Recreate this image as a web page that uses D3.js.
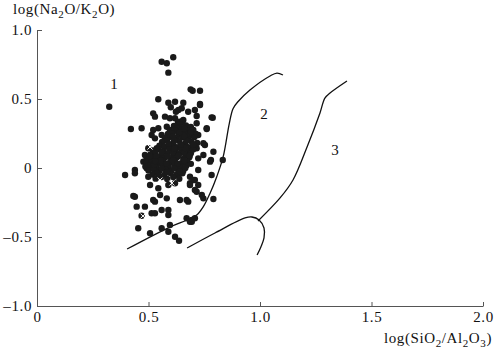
<!DOCTYPE html>
<html>
<head>
<meta charset="utf-8">
<script src="https://cdn.jsdelivr.net/npm/d3@7"></script>
<style>
body { margin: 0; background: #fff; }
text { font-family: "Liberation Serif", "Times New Roman", serif; fill: #111; }
</style>
</head>
<body>
<div id="chart"></div>
<script>
// axis ticks
var xTicks = [0, 0.5, 1.0, 1.5, 2.0];
var xTickLabels = ["0", "0.5", "1.0", "1.5", "2.0"];
var yTicks = [1.0, 0.5, 0, -0.5, -1.0];
var yTickLabels = ["1.0", "0.5", "0", "\u20130.5", "\u20131.0"];

// samples, [log(SiO2/Al2O3), log(Na2O/K2O)]
var points = [
  [0.559,0.770],[0.582,0.759],[0.611,0.802],[0.589,0.691],[0.324,0.444],
  [0.689,0.570],[0.698,0.560],[0.731,0.560],[0.544,0.498],[0.589,0.473],
  [0.619,0.480],[0.656,0.473],[0.731,0.464],[0.600,0.440],[0.623,0.408],
  [0.649,0.433],[0.678,0.408],[0.708,0.420],[0.521,0.396],[0.529,0.372],
  [0.574,0.372],[0.596,0.360],[0.716,0.377],[0.788,0.364],[0.634,0.420],
  [0.619,0.360],[0.656,0.348],[0.761,0.288],[0.716,0.324],[0.421,0.283],
  [0.469,0.288],[0.544,0.288],[0.514,0.239],[0.559,0.239],[0.582,0.299],
  [0.723,0.239],[0.529,0.215],[0.537,0.143],[0.492,0.070],[0.753,0.167],
  [0.746,0.094],[0.716,0.143],[0.499,0.143],[0.484,0.094],[0.477,0.046],
  [0.492,-0.002],[0.439,-0.014],[0.395,-0.051],[0.499,-0.063],[0.507,-0.123],
  [0.544,-0.147],[0.589,-0.123],[0.619,-0.111],[0.634,-0.038],[0.686,-0.063],
  [0.708,-0.087],[0.723,-0.123],[0.686,-0.111],[0.716,-0.172],[0.783,-0.051],
  [0.780,0.058],[0.791,0.118],[0.776,0.046],[0.723,0.070],[0.833,0.058],
  [0.723,-0.014],[0.701,-0.087],[0.708,-0.159],[0.746,-0.220],[0.791,-0.225],
  [0.671,-0.232],[0.439,-0.208],[0.552,-0.196],[0.582,-0.220],[0.641,-0.232],
  [0.678,-0.244],[0.447,-0.280],[0.484,-0.280],[0.529,-0.244],[0.559,-0.304],
  [0.589,-0.304],[0.514,-0.328],[0.589,-0.341],[0.671,-0.364],[0.694,-0.377],
  [0.708,-0.364],[0.454,-0.437],[0.507,-0.473],[0.559,-0.437],[0.596,-0.413],
  [0.589,-0.462],[0.619,-0.498],[0.637,-0.527],[0.439,-0.038],[0.432,-0.203],
  [0.521,-0.232],[0.739,-0.196],[0.469,-0.346],[0.529,-0.328],[0.694,-0.389],
  [0.521,0.275],[0.641,0.335],[0.761,0.283],[0.731,0.457],[0.746,0.179],
  [0.783,0.367],[0.686,-0.123],[0.686,-0.389],
  // dense core
  [0.632,0.333],[0.652,0.338],[0.641,0.318],
  [0.614,0.304],[0.641,0.296],[0.668,0.309],[0.690,0.297],[0.627,0.288],
  [0.596,0.275],[0.623,0.270],[0.650,0.280],[0.677,0.268],[0.701,0.276],
  [0.587,0.246],[0.606,0.252],[0.637,0.241],[0.664,0.251],[0.686,0.238],[0.711,0.249],
  [0.574,0.217],[0.598,0.226],[0.624,0.209],[0.652,0.222],[0.680,0.206],[0.706,0.224],
  [0.561,0.188],[0.584,0.197],[0.611,0.180],[0.638,0.195],[0.665,0.178],[0.692,0.193],[0.718,0.181],
  [0.549,0.162],[0.571,0.153],[0.598,0.166],[0.627,0.151],[0.651,0.163],[0.679,0.150],[0.705,0.165],
  [0.520,0.128],[0.545,0.137],[0.567,0.122],[0.593,0.139],[0.620,0.125],[0.647,0.136],[0.673,0.121],[0.700,0.134],
  [0.509,0.098],[0.531,0.108],[0.558,0.093],[0.584,0.106],[0.611,0.092],[0.638,0.105],[0.665,0.094],[0.690,0.107],
  [0.500,0.068],[0.522,0.079],[0.549,0.064],[0.575,0.077],[0.602,0.063],[0.629,0.079],[0.656,0.066],[0.683,0.078],
  [0.491,0.039],[0.513,0.050],[0.540,0.035],[0.567,0.049],[0.593,0.037],[0.620,0.051],[0.647,0.034],[0.674,0.048],
  [0.486,0.011],[0.508,0.021],[0.535,0.006],[0.562,0.020],[0.589,0.008],[0.616,0.022],[0.643,0.006],[0.670,0.019],
  [0.500,-0.018],[0.522,-0.008],[0.549,-0.022],[0.575,-0.009],[0.602,-0.021],[0.629,-0.006],[0.656,-0.020],
  [0.518,-0.047],[0.540,-0.036],[0.571,-0.050],[0.598,-0.037],[0.625,-0.049],[0.652,-0.038],
  [0.532,-0.077],[0.558,-0.066],[0.584,-0.079],[0.611,-0.066],[0.638,-0.078],
  [0.560,0.115],[0.610,0.115],[0.660,0.115],[0.535,0.085],[0.585,0.085],[0.635,0.090],
  [0.685,0.090],[0.555,0.055],[0.610,0.055],[0.660,0.055],[0.525,0.025],[0.580,0.030],
  [0.630,0.030],[0.690,0.030],[0.560,-0.003],[0.615,-0.002],[0.665,0.000],[0.585,-0.030],
  [0.640,-0.025],[0.615,0.140],[0.665,0.145],[0.590,0.175],[0.645,0.170],[0.700,0.170],
  [0.615,0.200],[0.670,0.200],[0.610,0.230],[0.660,0.232],[0.640,0.260],[0.690,0.260],
  [0.660,0.285],[0.530,0.050],[0.505,0.085],[0.545,-0.055]
];

// samples drawn as crosses
var crosses = [[0.507,0.152],[0.552,-0.087],[0.605,-0.109],[0.475,-0.348]];

// field boundaries
var boundary2 = [
  [0.404,-0.587],[0.596,-0.428],[0.673,-0.377],[0.716,-0.341],[0.746,-0.280],
  [0.776,-0.183],[0.806,-0.063],[0.835,0.082],[0.862,0.320],[0.879,0.430],
  [0.901,0.480],[0.955,0.565],[1.045,0.667],[1.076,0.688],[1.103,0.674]
];
var boundaryHook = [
  [0.673,-0.580],[0.798,-0.471],[0.933,-0.362],[0.964,-0.355],[0.996,-0.377],
  [1.018,-0.435],[1.018,-0.507],[1.004,-0.572],[0.987,-0.630]
];
var boundary3 = [
  [0.991,-0.384],[1.090,-0.217],[1.148,-0.087],[1.211,0.152],[1.269,0.399],
  [1.291,0.507],[1.314,0.543],[1.390,0.630]
];

var fieldLabels = [
  {text: "1", x: 0.345, y: 0.572},
  {text: "2", x: 1.018, y: 0.355},
  {text: "3", x: 1.336, y: 0.094}
];

var totalWidth = 494,
    totalHeight = 351;

var xScale = d3.scaleLinear().domain([0, 2]).range([37, 483]);
var yScale = d3.scaleLinear().domain([-1, 1]).range([306, 30]);

var svg = d3.select("#chart").append("svg")
    .attr("width", totalWidth)
    .attr("height", totalHeight);

var xAxis = d3.axisBottom(xScale)
    .tickValues(xTicks)
    .tickFormat(function(d, i) { return xTickLabels[i]; })
    .tickSizeInner(-4)
    .tickSizeOuter(0)
    .tickPadding(5);

var yAxis = d3.axisLeft(yScale)
    .tickValues(yTicks)
    .tickFormat(function(d, i) { return yTickLabels[i]; })
    .tickSizeInner(-5)
    .tickSizeOuter(0)
    .tickPadding(5);

var gx = svg.append("g")
    .attr("transform", "translate(0," + yScale(-1) + ")")
    .call(xAxis);

var gy = svg.append("g")
    .attr("transform", "translate(" + xScale(0) + ",0)")
    .call(yAxis);

[gx, gy].forEach(function(g) {
    g.selectAll("path, line").attr("stroke", "#555").attr("stroke-width", 1);
    g.selectAll("text")
        .attr("fill", "#111")
        .style("font-family", "'Liberation Serif', serif")
        .style("font-size", "15px")
        .style("letter-spacing", "0.6px");
});

// axis titles with subscripts
function addTitle(parts, x, y, anchor) {
    var t = svg.append("text")
        .attr("x", x)
        .attr("y", y)
        .attr("text-anchor", anchor)
        .style("font-size", "15px")
        .style("letter-spacing", "0.6px");
    var lowered = false;
    parts.forEach(function(p) {
        if (p.sub) {
            t.append("tspan").attr("dy", lowered ? 0 : 4).style("font-size", "11px").text(p.sub);
            lowered = true;
        } else {
            t.append("tspan").attr("dy", lowered ? -4 : 0).text(p.t);
            lowered = false;
        }
    });
}

addTitle([{t: "log(Na"}, {sub: "2"}, {t: "O/K"}, {sub: "2"}, {t: "O)"}], 13, 14, "start");
addTitle([{t: "log(SiO"}, {sub: "2"}, {t: "/Al"}, {sub: "2"}, {t: "O"}, {sub: "3"}, {t: ")"}], 492, 343, "end");

// boundaries
var line = d3.line()
    .x(function(d) { return xScale(d[0]); })
    .y(function(d) { return yScale(d[1]); })
    .curve(d3.curveCatmullRom.alpha(0.5));

[boundary2, boundaryHook, boundary3].forEach(function(b) {
    svg.append("path")
        .datum(b)
        .attr("d", line)
        .attr("fill", "none")
        .attr("stroke", "#111")
        .attr("stroke-width", 1.3);
});

svg.append("g").selectAll("circle")
    .data(points)
    .enter().append("circle")
    .attr("cx", function(d) { return xScale(d[0]); })
    .attr("cy", function(d) { return yScale(d[1]); })
    .attr("r", 3.2)
    .attr("fill", "#1a1a1a");

var cr = 2.5;
svg.append("g").selectAll("path")
    .data(crosses)
    .enter().append("path")
    .attr("d", function(d) {
        var cx = xScale(d[0]), cy = yScale(d[1]);
        return "M" + (cx - cr) + "," + (cy - cr) + "L" + (cx + cr) + "," + (cy + cr) +
               "M" + (cx - cr) + "," + (cy + cr) + "L" + (cx + cr) + "," + (cy - cr);
    })
    .attr("stroke", "#fff")
    .attr("stroke-width", 1);

svg.append("g").selectAll("text")
    .data(fieldLabels)
    .enter().append("text")
    .attr("x", function(d) { return xScale(d.x); })
    .attr("y", function(d) { return yScale(d.y); })
    .attr("text-anchor", "middle")
    .style("font-size", "15px")
    .text(function(d) { return d.text; });
</script>
</body>
</html>
